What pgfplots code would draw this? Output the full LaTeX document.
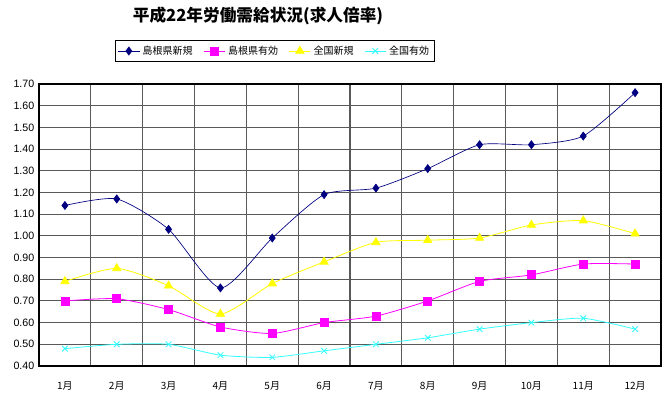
\documentclass[border=0pt]{standalone}
\usepackage{pgfplots}
\pgfplotsset{compat=1.18}
\usepackage{fontspec}
\setmainfont{Liberation Sans}
\newfontfamily\cjk{Noto Sans CJK JP}
\definecolor{navyc}{RGB}{0,0,128}
\definecolor{magc}{RGB}{255,0,255}
\definecolor{yelc}{RGB}{255,255,0}
\definecolor{cyac}{RGB}{51,255,255}
\begin{document}
\begin{tikzpicture}
\path (0pt,0pt) rectangle (499.5pt,297pt);
\node[font=\cjk\fontsize{12.5}{15}\selectfont\bfseries] at (193.5pt,285pt) {平成22年労働需給状況(求人倍率)};
\begin{axis}[
  at={(29.25pt,22.5pt)}, anchor=south west,
  scale only axis, width=466.5pt, height=211.5pt,
  xmin=0.5, xmax=12.5, ymin=0.4, ymax=1.7,
  xtick={1,...,12},
  xticklabels={1月,2月,3月,4月,5月,6月,7月,8月,9月,10月,11月,12月},
  minor xtick={1.5,2.5,...,11.5},
  ytick={0.4,0.5,...,1.71},
  y tick label style={/pgf/number format/fixed,/pgf/number format/fixed zerofill,/pgf/number format/precision=2},
  /pgf/number format/assume math mode=true,
  x tick label style={font=\cjk\fontsize{7.5}{9}\selectfont, yshift=-8pt},
  y tick label style={font=\fontsize{8}{9}\selectfont},
  major tick length=0pt, minor tick length=0pt,
  ymajorgrids, xminorgrids,
  grid style={black!65, line width=0.8pt},
  minor grid style={black!65, line width=0.8pt},
  axis line style={black, line width=0.8pt},
  legend columns=4,
  legend style={at={(0.379,1.117)}, anchor=center, draw=black, line width=0.6pt,
    font=\cjk\fontsize{7.5}{9}\selectfont, inner sep=2pt,
    /tikz/every even column/.append style={column sep=6pt}},
  legend image code/.code={\draw[#1, line width=0.6pt] (0pt,0pt) -- (16pt,0pt); \draw[#1, only marks] plot coordinates {(8pt,0pt)};},
]
\addplot[navyc, line width=0.5pt, smooth, tension=0.4, mark=diamond*, mark size=3pt, mark options={fill=navyc}]
 coordinates {(1,1.14)(2,1.17)(3,1.03)(4,0.76)(5,0.99)(6,1.19)(7,1.22)(8,1.31)(9,1.42)(10,1.42)(11,1.46)(12,1.66)};
\addlegendentry{島根県新規}
\addplot[magc, line width=0.6pt, smooth, tension=0.4, mark=square*, mark size=3pt, mark options={fill=magc}]
 coordinates {(1,0.70)(2,0.71)(3,0.66)(4,0.58)(5,0.55)(6,0.60)(7,0.63)(8,0.70)(9,0.79)(10,0.82)(11,0.87)(12,0.87)};
\addlegendentry{島根県有効}
\addplot[yelc, line width=0.6pt, smooth, tension=0.4, mark=triangle*, mark size=3.5pt, mark options={fill=yelc}]
 coordinates {(1,0.79)(2,0.85)(3,0.77)(4,0.64)(5,0.78)(6,0.88)(7,0.97)(8,0.98)(9,0.99)(10,1.05)(11,1.07)(12,1.01)};
\addlegendentry{全国新規}
\addplot[cyac, line width=0.6pt, smooth, tension=0.4, mark=x, mark size=3pt]
 coordinates {(1,0.48)(2,0.50)(3,0.50)(4,0.45)(5,0.44)(6,0.47)(7,0.50)(8,0.53)(9,0.57)(10,0.60)(11,0.62)(12,0.57)};
\addlegendentry{全国有効}
\end{axis}
\end{tikzpicture}
\end{document}
